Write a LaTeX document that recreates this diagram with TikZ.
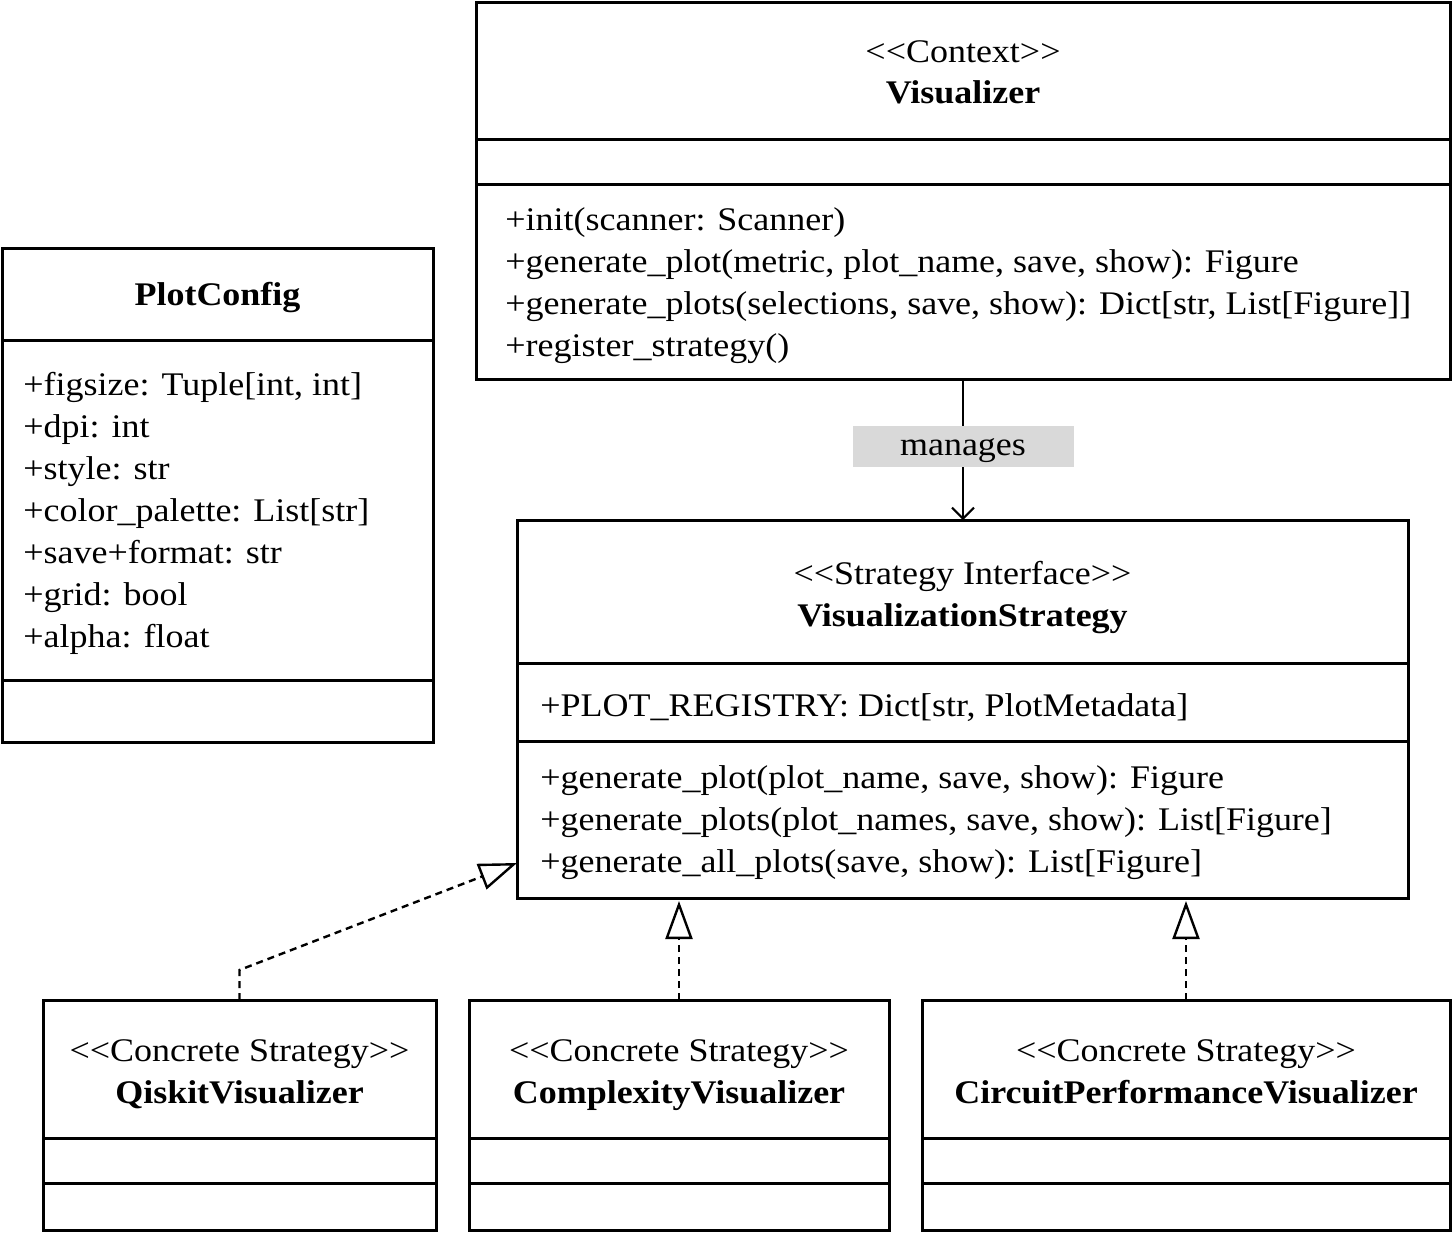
\documentclass[tikz,border=0pt]{standalone}
\usepackage{fontspec}
\setmainfont{Liberation Serif}[FakeStretch=1.09]
\usetikzlibrary{arrows.meta}
\definecolor{lblgray}{HTML}{D9D9D9}
\begin{document}
\begin{tikzpicture}[x=0.5pt,y=-0.5pt,
  umlbox/.style={draw, line width=1.5pt, inner sep=0pt, outer sep=0pt, anchor=north west},
  sep/.style={line width=1.5pt},
  ctext/.style={font=\fontsize{16.5}{20}\selectfont, inner sep=0pt, anchor=base},
  ltext/.style={ctext, anchor=base west},
  btext/.style={ctext, font=\fontsize{16.5}{20}\selectfont\bfseries},
  realize/.style={line width=1.2pt, dash pattern=on 3.5pt off 2.5pt, -{Triangle[open, length=19pt, width=13.5pt, line width=1.2pt]}},
  assoc/.style={line width=1pt, -{Straight Barb[length=5.5pt, width=11pt, line width=1pt]}},
  lbl/.style={fill=lblgray, minimum width=110.5pt, text height=14.5pt, text depth=6pt, inner sep=0pt, font=\fontsize{16.5}{20}\selectfont},
]
\useasboundingbox (0,0) rectangle (1452,1233);

% ---------- Visualizer ----------
\node[umlbox, minimum width=487pt, minimum height=188.5pt] (vis) at (476,2) {};
\draw[sep] (vis.west |- 0,139) -- (vis.east |- 0,139);
\draw[sep] (vis.west |- 0,184) -- (vis.east |- 0,184);
\node[ctext] (visst) at (963,62) {<{}<Context>{}>};
\node[btext] (visnm) at (963,103) {Visualizer};
\node[ltext] (vism1) at (505,230) {+init(scanner: Scanner)};
\node[ltext] (vism2) at (505,272) {+generate\_plot(metric, plot\_name, save, show): Figure};
\node[ltext] (vism3) at (505,314) {+generate\_plots(selections, save, show): Dict[str, List[Figure]]};
\node[ltext] (vism4) at (505,356) {+register\_strategy()};

% ---------- PlotConfig ----------
\node[umlbox, minimum width=215.5pt, minimum height=247pt] (pc) at (2,248) {};
\draw[sep] (pc.west |- 0,340) -- (pc.east |- 0,340);
\draw[sep] (pc.west |- 0,680) -- (pc.east |- 0,680);
\node[btext] (pcnm) at (217.5,305) {PlotConfig};
\node[ltext] (pca1) at (23,395) {+figsize: Tuple[int, int]};
\node[ltext] (pca2) at (23,437) {+dpi: int};
\node[ltext] (pca3) at (23,479) {+style: str};
\node[ltext] (pca4) at (23,521) {+color\_palette: List[str]};
\node[ltext] (pca5) at (23,563) {+save+format: str};
\node[ltext] (pca6) at (23,605) {+grid: bool};
\node[ltext] (pca7) at (23,647) {+alpha: float};

% ---------- VisualizationStrategy ----------
\node[umlbox, minimum width=445.5pt, minimum height=189pt] (vs) at (517,520) {};
\draw[sep] (vs.west |- 0,663) -- (vs.east |- 0,663);
\draw[sep] (vs.west |- 0,741) -- (vs.east |- 0,741);
\node[ctext] (vsst) at (962.5,584) {<{}<Strategy Interface>{}>};
\node[btext] (vsnm) at (962.5,626) {VisualizationStrategy};
\node[ltext] (vsa1) at (540,716) {+PLOT\_REGISTRY: Dict[str, PlotMetadata]};
\node[ltext] (vsm1) at (540,788) {+generate\_plot(plot\_name, save, show): Figure};
\node[ltext] (vsm2) at (540,830) {+generate\_plots(plot\_names, save, show): List[Figure]};
\node[ltext] (vsm3) at (540,872) {+generate\_all\_plots(save, show): List[Figure]};

% ---------- Concrete strategies ----------
\node[umlbox, minimum width=196.5pt, minimum height=115pt] (qv) at (43,1000) {};
\draw[sep] (qv.west |- 0,1138) -- (qv.east |- 0,1138);
\draw[sep] (qv.west |- 0,1183) -- (qv.east |- 0,1183);
\node[ctext] (qvst) at (239.5,1061) {<{}<Concrete Strategy>{}>};
\node[btext] (qvnm) at (239.5,1103) {QiskitVisualizer};

\node[umlbox, minimum width=210pt, minimum height=115pt] (cv) at (469,1000) {};
\draw[sep] (cv.west |- 0,1138) -- (cv.east |- 0,1138);
\draw[sep] (cv.west |- 0,1183) -- (cv.east |- 0,1183);
\node[ctext] (cvst) at (679,1061) {<{}<Concrete Strategy>{}>};
\node[btext] (cvnm) at (679,1103) {ComplexityVisualizer};

\node[umlbox, minimum width=264pt, minimum height=115pt] (cp) at (922,1000) {};
\draw[sep] (cp.west |- 0,1138) -- (cp.east |- 0,1138);
\draw[sep] (cp.west |- 0,1183) -- (cp.east |- 0,1183);
\node[ctext] (cpst) at (1186,1061) {<{}<Concrete Strategy>{}>};
\node[btext] (cpnm) at (1186,1103) {CircuitPerformanceVisualizer};

% ---------- Connectors ----------
\draw[assoc] (vis.south) -- (vis.south |- vs.north)
  node[lbl, pos=0.479] (mlbl) {manages};
\draw[realize] (qv.north) -- (qv.north |- 0,970) -- (vs.west |- 0,863);
\draw[realize, shorten >=1.5pt] (cv.north) -- (cv.north |- vs.south);
\draw[realize, shorten >=1.5pt] (cp.north) -- (cp.north |- vs.south);
\end{tikzpicture}
\end{document}
